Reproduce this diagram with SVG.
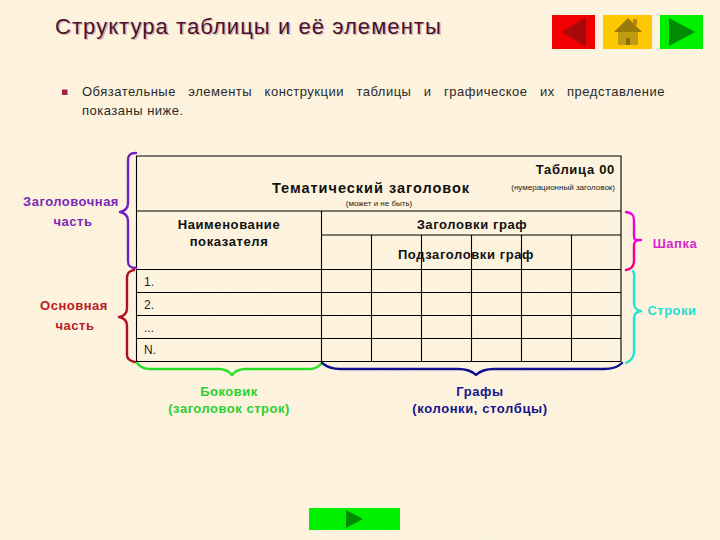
<svg xmlns="http://www.w3.org/2000/svg" width="720" height="540" viewBox="0 0 720 540">
<style>
text{font-family:"Liberation Sans",Arial,sans-serif}
.t{stroke:#000;stroke-width:1.1;fill:none}
.b{font-weight:bold;font-size:13px;fill:#111;text-anchor:middle;letter-spacing:.6px}
.l{font-weight:bold;font-size:13px;text-anchor:middle;letter-spacing:.5px}
.s{font-size:8px;fill:#222}
.n{font-size:12px;fill:#222}
.br{fill:none;stroke-width:2.4;stroke-linecap:round;stroke-linejoin:round}
.tx{font-size:13px;fill:#2a2a2a;letter-spacing:.5px}
.ti{font-size:22px;letter-spacing:1.06px}
</style>
<defs>
<filter id="paper" x="0" y="0" width="100%" height="100%"><feTurbulence type="fractalNoise" baseFrequency="0.035" numOctaves="3" seed="4"/><feColorMatrix values="0 0 0 0 0.93 0 0 0 0 0.85 0 0 0 0 0.68 0.5 0 0 0 -0.12"/></filter>
</defs>
<rect id="background" width="720" height="540" fill="#fdf3de"/>
<rect width="720" height="540" filter="url(#paper)" opacity="0.6"/>
<g id="title">
<text class="ti" x="56.500" y="35" fill="#d9b6b0">Структура таблицы и её элементы</text>
<text class="ti" x="55" y="33.500" fill="#4a1030">Структура таблицы и её элементы</text>
</g>
<g id="nav-back"><rect x="552" y="15" width="43" height="34" fill="#f00000"/><polygon points="562,32 586,17 586,47" fill="#a80808"/></g>
<g id="nav-home"><rect x="603" y="15" width="49" height="34" fill="#fcc800"/><polygon points="614,32 628,18 642,32" fill="#9a7a08"/><rect x="633" y="19" width="4" height="6" fill="#b08a08"/><rect x="618" y="32" width="20" height="13" fill="#c09a10"/><rect x="626" y="38" width="4" height="7" fill="#8a6c08"/></g>
<g id="nav-next"><rect x="660" y="15" width="43" height="34" fill="#00f000"/><polygon points="669,18 695,32 669,46" fill="#008c00"/></g>
<g id="intro">
<rect x="62" y="89.500" width="5.500" height="5.500" fill="#a8204a"/>
<text class="tx" x="82" y="96" word-spacing="8.300">Обязательные элементы конструкции таблицы и графическое их представление</text>
<text class="tx" x="82" y="115">показаны ниже.</text>
</g>
<g id="table">
<path class="t" d="M136.500 156H621V361.500H136.500ZM136.500 211H621M136.500 269.500H621M136.500 292.500H621M136.500 315.500H621M136.500 338.500H621M321.500 211V361.500M321.500 235H621M371.500 235V361.500M421.500 235V361.500M471.500 235V361.500M521.500 235V361.500M571.500 235V361.500"/>
<text class="b" x="371" y="193" style="font-size:14.500px;letter-spacing:1px">Тематический заголовок</text>
<text class="s" x="379" y="206" text-anchor="middle">(может и не быть)</text>
<text class="b" x="615" y="174" style="text-anchor:end;letter-spacing:.7px">Таблица 00</text>
<text class="s" x="615" y="190" text-anchor="end">(нумерационный заголовок)</text>
<text class="b" x="229" y="229">Наименование</text>
<text class="b" x="229" y="246">показателя</text>
<text class="b" x="472" y="229">Заголовки граф</text>
<text class="b" x="466" y="259">Подзаголовки граф</text>
<text class="n" x="144" y="286">1.</text>
<text class="n" x="144" y="309">2.</text>
<text class="n" x="144" y="332">...</text>
<text class="n" x="144" y="354">N.</text>
</g>
<g id="connectors">
<path class="br" stroke="#7020c0" d="M136 153C130 153 128 155 128 161V203C128 208 125 211 120 212C125 213 128 216 128 221V261C128 266 130 268 136 268"/>
<path class="br" stroke="#b01020" d="M134 270C129 271 127 273 127 278V308C127 313 125 316 119 317C125 318 127 321 127 326V355C127 359 129 361 135 362"/>
<path class="br" stroke="#f000e0" d="M626 212C632 213 634 215 634 220V236C634 241 636 240 641 240C636 240 634 241 634 246"/>
<path class="br" stroke="#f00090" d="M634 246V261C634 266 632 269 626 270"/>
<path class="br" stroke="#20e8d0" d="M633 271C635 274 634 276 634 280V303C634 308 636 310 641 311C636 312 634 314 634 318V352C634 357 632 360 626 363"/>
<path class="br" stroke="#28e028" d="M137 363C141 368 145 369 150 369H218C225 369 229 371 232 375C235 371 239 369 246 369H310C315 369 318 367 321 364"/>
<path class="br" stroke="#101090" d="M322 363C327 367 333 369 340 369H458C465 369 472 371 476 375C480 371 487 369 494 369H604C612 369 618 367 622 363"/>
</g>
<g id="label-zagolovochnaya" fill="#7c28b8"><text class="l" x="71" y="206">Заголовочная</text><text class="l" x="73" y="226">часть</text></g>
<g id="label-osnovnaya" fill="#b81c24"><text class="l" x="74" y="310">Основная</text><text class="l" x="75" y="330">часть</text></g>
<g id="label-shapka" fill="#d428d0"><text class="l" x="675" y="248">Шапка</text></g>
<g id="label-stroki" fill="#28dcd0"><text class="l" x="672" y="315">Строки</text></g>
<g id="label-bokovik" fill="#2cd030"><text class="l" x="229" y="396">Боковик</text><text class="l" x="229" y="413">(заголовок строк)</text></g>
<g id="label-grafy" fill="#14148c"><text class="l" x="480" y="396" style="letter-spacing:.6px">Графы</text><text class="l" x="480" y="413" style="letter-spacing:.6px">(колонки, столбцы)</text></g>
<g id="nav-bottom"><rect x="309" y="508" width="91" height="22" fill="#00f000"/><polygon points="346,510 363,519 346,528" fill="#008c00"/></g>
</svg>
